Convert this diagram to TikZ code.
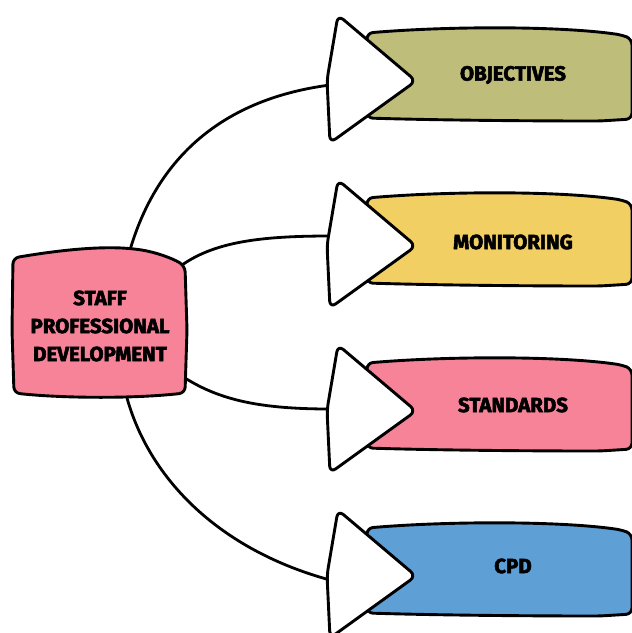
\documentclass[tikz,border=0pt]{standalone}
\usepackage{fontspec}
\newfontfamily\hv{Fira Sans}[BoldFeatures={FakeBold=2.6}]
\definecolor{olivebox}{HTML}{BFBD7A}
\definecolor{yellowbox}{HTML}{F2CF63}
\definecolor{pinkbox}{HTML}{F78399}
\definecolor{bluebox}{HTML}{5E9FD5}
\tikzset{
  outline/.style={draw=black, line width=2.9pt, line join=round},
  conn/.style={draw=black, line width=2.8pt},
  lbl/.style={font=\hv\bfseries\fontsize{20.5}{28}\selectfont, align=center, inner sep=0pt},
}
\newcommand{\sidebox}[3]{% #1 top y, #2 colour, #3 name
  \path[outline, fill=#2, rounded corners=6pt]
    (367,#1+18) .. controls (450,#1+11) and (560,#1+11) .. (622,#1+20)
    -- (632,#1+24) -- (632,#1+104) -- (600,#1+106)
    .. controls (520,#1+106) and (430,#1+105) .. (367,#1+103) -- cycle;
  \path[outline, fill=white, rounded corners=7pt]
    (338,#1) -- (416,#1+66) -- (330,#1+128) -- (327,#1+65) -- cycle;
}
\begin{document}
\begin{tikzpicture}[x=1pt,y=-1pt]
\useasboundingbox (0,0) rectangle (632,633);
% connector end points
\coordinate (c1) at (130,250);
\coordinate (c2) at (182,265);
\coordinate (c3) at (185,378);
\coordinate (c4) at (127,398);
\coordinate (t1) at (330,85);
\coordinate (t2) at (330,236);
\coordinate (t3) at (330,409);
\coordinate (t4) at (330,580);
\draw[conn] (c1) .. controls (155,165) and (215,100) .. (t1);
\draw[conn] (c2) .. controls (215,242) and (260,236) .. (t2);
\draw[conn] (c3) .. controls (220,400) and (260,409) .. (t3);
\draw[conn] (c4) .. controls (150,480) and (220,550) .. (t4);
% centre shape
\path[outline, fill=pinkbox, rounded corners=6pt]
  (13,258) .. controls (60,250) and (100,246) .. (135,249)
  .. controls (155,252) and (172,258) .. (185,266)
  -- (187,330) -- (185,393) .. controls (130,399) and (60,398) .. (14,393)
  -- (12,330) -- cycle;
\node[lbl] (centre) at (100,326) {STAFF\\PROFESSIONAL\\DEVELOPMENT};
% side boxes
\sidebox{15}{olivebox}{b1}
\sidebox{180}{yellowbox}{b2}
\sidebox{345}{pinkbox}{b3}
\sidebox{510}{bluebox}{b4}
\node[lbl] (l1) at (513,75) {OBJECTIVES};
\node[lbl] (l2) at (513,242) {MONITORING};
\node[lbl] (l3) at (513,405) {STANDARDS};
\node[lbl] (l4) at (513,566) {CPD};
\end{tikzpicture}
\end{document}
